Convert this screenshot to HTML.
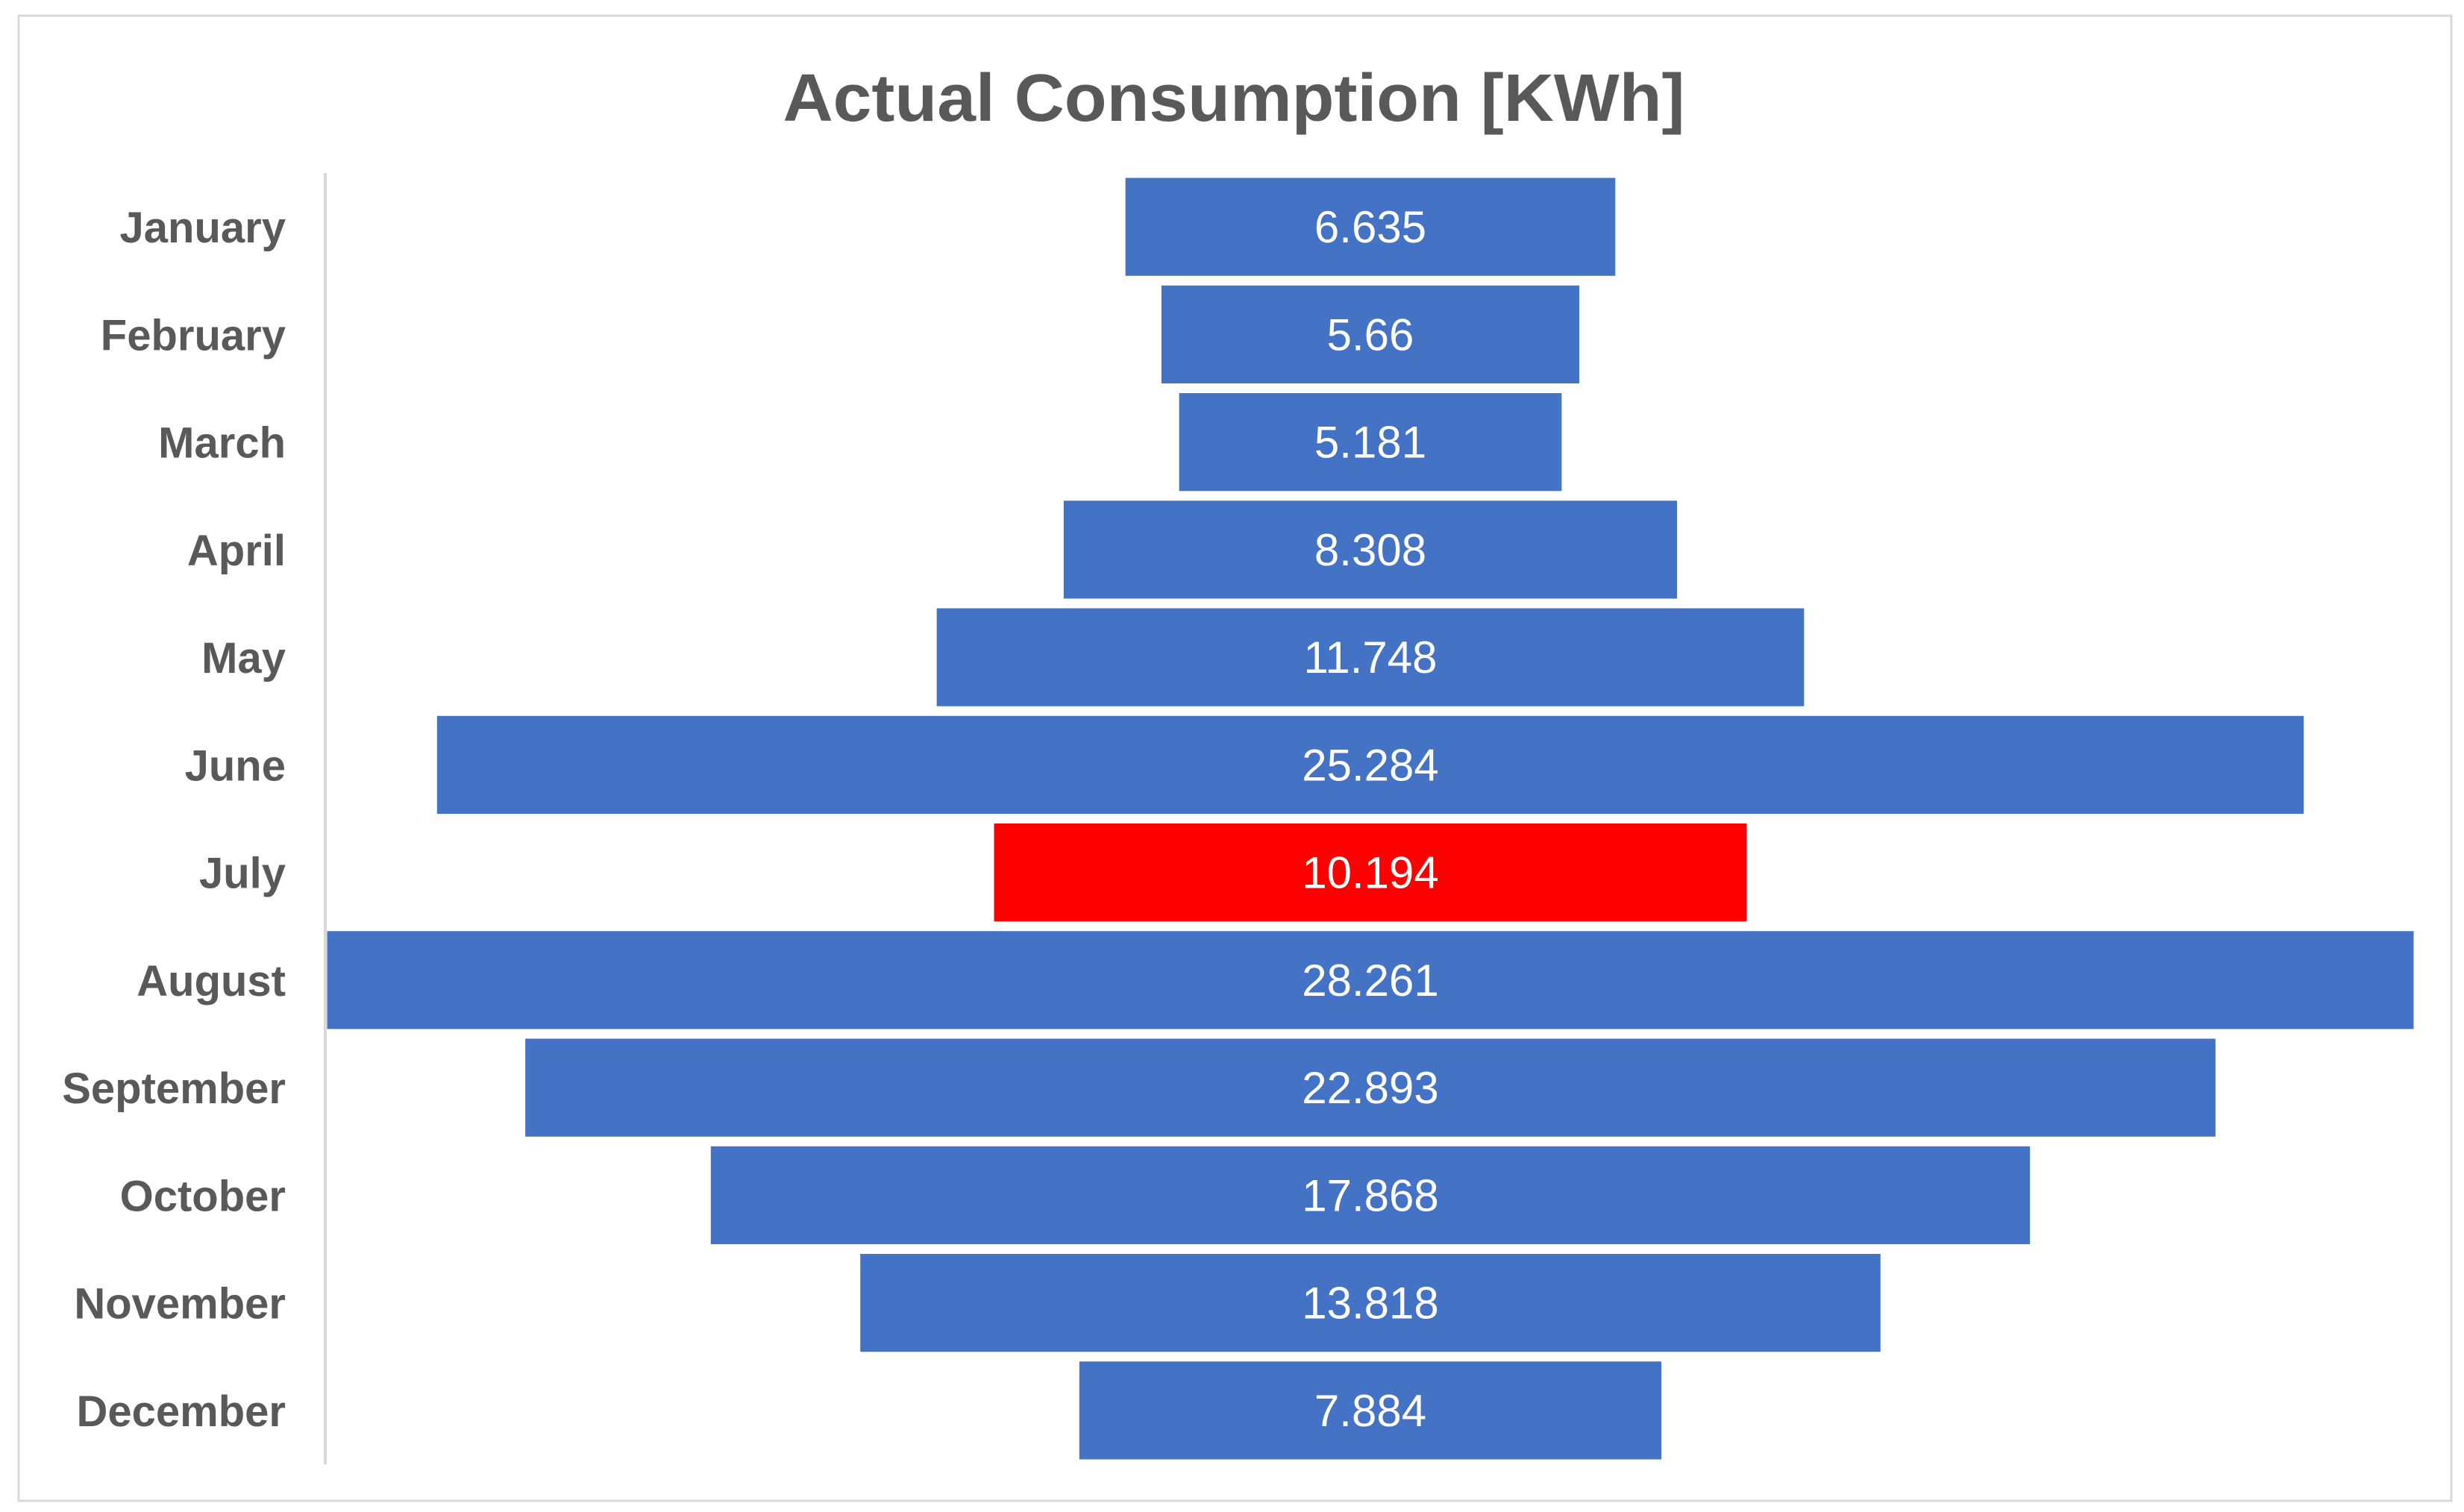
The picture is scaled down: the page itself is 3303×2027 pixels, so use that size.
<!DOCTYPE html>
<html><head><meta charset="utf-8"><style>
html,body{margin:0;padding:0;background:#fff;}
svg{display:block;}
</style></head><body>
<svg id="chart" width="3303" height="2027" viewBox="0 0 3303 2027" xmlns="http://www.w3.org/2000/svg">
<rect x="25" y="21" width="3261" height="1991" fill="#fff" stroke="#d9d9d9" stroke-width="3"/>
<text x="1654" y="162" text-anchor="middle" font-family="Liberation Sans, sans-serif" font-weight="bold" font-size="90" fill="#595959" textLength="1209" lengthAdjust="spacingAndGlyphs">Actual Consumption [KWh]</text>
<line x1="436" y1="232" x2="436" y2="1963" stroke="#d9d9d9" stroke-width="4"/>
<g id="bars"></g>
</svg>
<script>
const categories = ["January","February","March","April","May","June","July","August","September","October","November","December"];
const values = [6.635, 5.66, 5.181, 8.308, 11.748, 25.284, 10.194, 28.261, 22.893, 17.868, 13.818, 7.884];
const valueLabels = ["6.635","5.66","5.181","8.308","11.748","25.284","10.194","28.261","22.893","17.868","13.818","7.884"];
const highlightCategory = "July";

const NS = "http://www.w3.org/2000/svg";
const g = document.getElementById("bars");
const plotTop = 232, plotBottom = 1963, centerX = 1837, maxHalf = 1398.5;
const band = (plotBottom - plotTop) / categories.length;
const maxVal = Math.max(...values);
function xScale(v){ return v / maxVal * maxHalf * 2; }
function yCenter(i){ return plotTop + band * (i + 0.5); }
const barH = band * 0.91;

categories.forEach((c, i) => {
  const w = xScale(values[i]);
  const cy = yCenter(i);
  const r = document.createElementNS(NS, "rect");
  r.setAttribute("x", centerX - w / 2);
  r.setAttribute("y", cy - barH / 2);
  r.setAttribute("width", w);
  r.setAttribute("height", barH);
  r.setAttribute("fill", c === highlightCategory ? "#ff0000" : "#4472c4");
  
  
  g.appendChild(r);

  const t = document.createElementNS(NS, "text");
  t.setAttribute("x", centerX);
  t.setAttribute("y", cy + 21);
  t.setAttribute("text-anchor", "middle");
  t.setAttribute("font-family", "Liberation Sans, sans-serif");
  t.setAttribute("font-size", "60");
  t.setAttribute("fill", "#ffffff");
  t.textContent = valueLabels[i];
  
  
  g.appendChild(t);

  const l = document.createElementNS(NS, "text");
  l.setAttribute("x", 383);
  l.setAttribute("y", cy + 21);
  l.setAttribute("text-anchor", "end");
  l.setAttribute("font-family", "Liberation Sans, sans-serif");
  l.setAttribute("font-weight", "bold");
  l.setAttribute("font-size", "58");
  l.setAttribute("fill", "#595959");
  l.textContent = c;
  
  
  g.appendChild(l);
});
</script>
</body></html>
